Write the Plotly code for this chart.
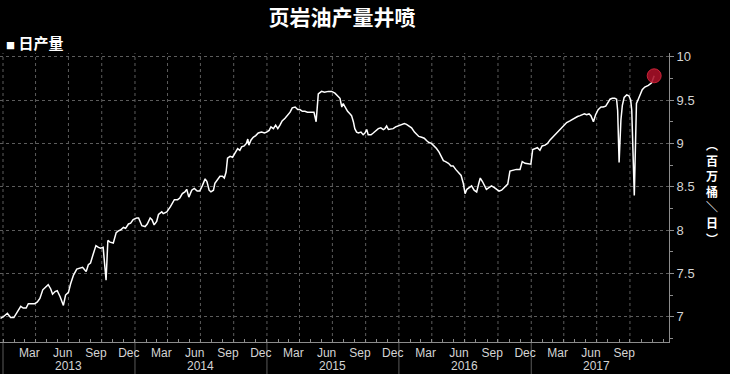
import plotly.graph_objects as go
import pandas as pd

# ---- data ----
dates = [
    "2012-12-25", "2013-01-02", "2013-01-13", "2013-01-22", "2013-01-31", "2013-02-10", "2013-02-19",
    "2013-02-26", "2013-03-06", "2013-03-12", "2013-03-21", "2013-03-30", "2013-04-06", "2013-04-13",
    "2013-04-21", "2013-04-27", "2013-05-06", "2013-05-13", "2013-05-18", "2013-05-25", "2013-05-31",
    "2013-06-08", "2013-06-17", "2013-06-23", "2013-07-01", "2013-07-07", "2013-07-15", "2013-07-24",
    "2013-07-31", "2013-08-09", "2013-08-13", "2013-08-19", "2013-08-25", "2013-08-31", "2013-09-08",
    "2013-09-15", "2013-09-22", "2013-09-28", "2013-10-05", "2013-10-13", "2013-10-18", "2013-10-24",
    "2013-11-02", "2013-11-10", "2013-11-16", "2013-11-22", "2013-11-30", "2013-12-06", "2013-12-14",
    "2013-12-20", "2013-12-27", "2014-01-06", "2014-01-11", "2014-01-20", "2014-01-29", "2014-02-04",
    "2014-02-12", "2014-02-17", "2014-02-23", "2014-03-02", "2014-03-07", "2014-03-16", "2014-03-20",
    "2014-03-30", "2014-04-09", "2014-04-20", "2014-04-29", "2014-05-05", "2014-05-12", "2014-05-19",
    "2014-05-24", "2014-05-30", "2014-06-07", "2014-06-14", "2014-06-22", "2014-06-29", "2014-07-06",
    "2014-07-14", "2014-07-19", "2014-07-25", "2014-07-30", "2014-08-06", "2014-08-10", "2014-08-18",
    "2014-08-24", "2014-08-31", "2014-09-05", "2014-09-10", "2014-09-14", "2014-09-21", "2014-09-28",
    "2014-10-05", "2014-10-12", "2014-10-18", "2014-10-23", "2014-10-30", "2014-11-05", "2014-11-09",
    "2014-11-12", "2014-11-18", "2014-11-24", "2014-12-01", "2014-12-08", "2014-12-17", "2014-12-25",
    "2014-12-31", "2015-01-07", "2015-01-12", "2015-01-19", "2015-01-25", "2015-01-31", "2015-02-06",
    "2015-02-12", "2015-02-20", "2015-02-27", "2015-03-06", "2015-03-12", "2015-03-20", "2015-03-27",
    "2015-04-02", "2015-04-09", "2015-04-16", "2015-04-23", "2015-04-30", "2015-05-06", "2015-05-11",
    "2015-05-17", "2015-05-23", "2015-06-01", "2015-06-09", "2015-06-20", "2015-06-29", "2015-07-08",
    "2015-07-18", "2015-07-22", "2015-07-27", "2015-07-31", "2015-08-05", "2015-08-12", "2015-08-19",
    "2015-08-23", "2015-08-28", "2015-09-01", "2015-09-06", "2015-09-11", "2015-09-18", "2015-09-24",
    "2015-09-29", "2015-10-04", "2015-10-08", "2015-10-16", "2015-10-22", "2015-10-29", "2015-11-05",
    "2015-11-12", "2015-11-19", "2015-11-23", "2015-11-28", "2015-12-03", "2015-12-10", "2015-12-16",
    "2015-12-23", "2015-12-30", "2016-01-09", "2016-01-16", "2016-01-22", "2016-01-29", "2016-02-05",
    "2016-02-13", "2016-02-19", "2016-02-25", "2016-03-04", "2016-03-11", "2016-03-18", "2016-03-24",
    "2016-03-31", "2016-04-08", "2016-04-14", "2016-04-21", "2016-04-26", "2016-05-03", "2016-05-09",
    "2016-05-17", "2016-05-24", "2016-05-30", "2016-06-06", "2016-06-13", "2016-06-21", "2016-06-27",
    "2016-07-02", "2016-07-07", "2016-07-13", "2016-07-20", "2016-07-27", "2016-08-03", "2016-08-09",
    "2016-08-13", "2016-08-19", "2016-08-24", "2016-08-30", "2016-09-06", "2016-09-13", "2016-09-21",
    "2016-09-27", "2016-10-04", "2016-10-11", "2016-10-20", "2016-10-28", "2016-11-03", "2016-11-12",
    "2016-11-21", "2016-12-01", "2016-12-07", "2016-12-15", "2016-12-24", "2016-12-31", "2017-01-05",
    "2017-01-11", "2017-01-18", "2017-01-25", "2017-01-31", "2017-02-08", "2017-02-15", "2017-02-22",
    "2017-03-03", "2017-03-12", "2017-03-21", "2017-03-31", "2017-04-09", "2017-04-18", "2017-04-27",
    "2017-05-02", "2017-05-09", "2017-05-16", "2017-05-22", "2017-05-28", "2017-06-03", "2017-06-10",
    "2017-06-15", "2017-06-22", "2017-06-28", "2017-07-05", "2017-07-13", "2017-07-19", "2017-07-26",
    "2017-07-31", "2017-08-07", "2017-08-13", "2017-08-20", "2017-08-25", "2017-08-28", "2017-09-01",
    "2017-09-06", "2017-09-10", "2017-09-15", "2017-09-22", "2017-09-28", "2017-10-03", "2017-10-06",
    "2017-10-13", "2017-10-17", "2017-10-19", "2017-10-24", "2017-10-29", "2017-11-04", "2017-11-11",
    "2017-11-21", "2017-11-30", "2017-12-07",
]
values = [
    6.98, 7.00, 7.04, 6.99, 6.99, 7.06, 7.12,
    7.10, 7.10, 7.15, 7.15, 7.15, 7.17, 7.21,
    7.31, 7.33, 7.37, 7.32, 7.26, 7.29, 7.30,
    7.23, 7.13, 7.25, 7.28, 7.38, 7.48, 7.55,
    7.56, 7.57, 7.55, 7.52, 7.60, 7.62, 7.73,
    7.82, 7.80, 7.79, 7.80, 7.42, 7.88, 7.86,
    7.85, 7.97, 7.99, 8.00, 8.03, 8.02, 8.07,
    8.08, 8.12, 8.14, 8.14, 8.05, 8.04, 8.07,
    8.14, 8.12, 8.06, 8.10, 8.18, 8.21, 8.19,
    8.21, 8.27, 8.35, 8.35, 8.37, 8.42, 8.44,
    8.47, 8.38, 8.46, 8.48, 8.45, 8.45, 8.51,
    8.59, 8.56, 8.46, 8.44, 8.46, 8.54, 8.59,
    8.62, 8.62, 8.60, 8.67, 8.83, 8.85, 8.84,
    8.89, 8.94, 8.92, 8.96, 8.97, 9.00, 9.05,
    8.98, 9.04, 9.07, 9.09, 9.12, 9.13, 9.12,
    9.13, 9.15, 9.19, 9.17, 9.21, 9.17, 9.21,
    9.26, 9.29, 9.32, 9.36, 9.41, 9.42, 9.39,
    9.39, 9.37, 9.37, 9.36, 9.36, 9.36, 9.36,
    9.25, 9.57, 9.60, 9.59, 9.60, 9.60, 9.58,
    9.54, 9.52, 9.42, 9.46, 9.42, 9.37, 9.34,
    9.32, 9.25, 9.17, 9.13, 9.12, 9.13, 9.10,
    9.12, 9.16, 9.10, 9.10, 9.12, 9.15, 9.17,
    9.18, 9.16, 9.17, 9.20, 9.16, 9.17, 9.17,
    9.19, 9.20, 9.22, 9.23, 9.22, 9.20, 9.18,
    9.13, 9.10, 9.08, 9.07, 9.06, 9.03, 9.01,
    9.00, 8.97, 8.94, 8.90, 8.85, 8.80, 8.79,
    8.77, 8.74, 8.74, 8.70, 8.67, 8.63, 8.54,
    8.42, 8.47, 8.49, 8.51, 8.46, 8.44, 8.54,
    8.60, 8.56, 8.52, 8.47, 8.49, 8.51, 8.49,
    8.47, 8.45, 8.46, 8.50, 8.53, 8.68, 8.69,
    8.70, 8.70, 8.79, 8.77, 8.76, 8.76, 8.93,
    8.94, 8.95, 8.92, 8.97, 8.98, 9.00, 9.04,
    9.08, 9.12, 9.15, 9.20, 9.24, 9.26, 9.28,
    9.30, 9.31, 9.32, 9.33, 9.34, 9.33, 9.34,
    9.32, 9.25, 9.33, 9.39, 9.42, 9.42, 9.43,
    9.47, 9.51, 9.52, 9.52, 9.51, 9.38, 8.78,
    9.27, 9.44, 9.53, 9.56, 9.55, 9.50, 9.38,
    8.40, 9.19, 9.46, 9.51, 9.56, 9.62, 9.65,
    9.67, 9.70, 9.78,
]

y_tick_values = [7, 7.5, 8, 8.5, 9, 9.5, 10]
y_tick_text = ["7", "7.5", "8", "8.5", "9", "9.5", "10"]

month_tick_dates = []
month_tick_text = []
for yr in range(2013, 2018):
    for m, name in [(3, "Mar"), (6, "Jun"), (9, "Sep"), (12, "Dec")]:
        if yr == 2017 and m == 12:
            continue
        month_tick_dates.append(f"{yr}-{m:02d}-15")
        month_tick_text.append(name)

year_labels = ["2013", "2014", "2015", "2016", "2017"]
year_label_dates = [f"{y}-07-01" for y in year_labels]
year_start_dates = [f"{y}-01-01" for y in year_labels]
quarter_grid_dates = [d.strftime("%Y-%m-%d") for d in pd.date_range("2013-01-01", "2017-10-01", freq="QS")]
month_start_dates = [d.strftime("%Y-%m-%d") for d in pd.date_range("2013-01-01", "2018-01-01", freq="MS")]

title_text = "页岩油产量井喷"
legend_text = "日产量"
unit_chars = ["︵", "百", "万", "桶", "＼", "日", "︶"]

# ---- figure ----
W, H = 730, 374
M_L, M_R, M_T, M_B = 0, 61, 53, 32
plot_h = H - M_T - M_B

GRID = "#5c5c5c"
AXIS = "#8c8c8c"
TICKTXT = "#d4d4d4"
FONT = "Arial, 'Liberation Sans', 'Noto Sans CJK SC', sans-serif"
CJK = "'Noto Sans CJK SC', 'Noto Sans', sans-serif"

fig = go.Figure()
fig.add_trace(go.Scatter(
    x=dates, y=values, mode="lines",
    line=dict(color="white", width=1.5),
    hoverinfo="skip", showlegend=False,
))
fig.add_trace(go.Scatter(
    x=[dates[-1]], y=[values[-1]], mode="markers",
    marker=dict(size=14, color="rgba(170,16,40,0.88)", line=dict(color="rgba(210,40,60,0.9)", width=1)),
    hoverinfo="skip", showlegend=False,
))

shapes = []
for d in quarter_grid_dates:
    shapes.append(dict(type="line", xref="x", yref="paper", x0=d, x1=d, y0=0, y1=1,
                       line=dict(color=GRID, width=1, dash="dot"), layer="below"))
for d in year_start_dates:
    shapes.append(dict(type="line", xref="x", yref="paper", x0=d, x1=d, y0=-M_B / plot_h, y1=0,
                       line=dict(color="#5a5a5a", width=1), layer="below"))

annotations = []
for lab, d in zip(year_labels, year_label_dates):
    annotations.append(dict(text=lab, x=d, xref="x", y=-M_B / plot_h, yref="paper", yanchor="bottom",
                            yshift=0, borderpad=0, showarrow=False,
                            font=dict(family=FONT, size=12, color=TICKTXT)))
annotations.append(dict(
    text='<span style="font-size:9px">■</span> <b>' + legend_text + '</b>',
    xref="paper", yref="paper", x=0, xanchor="left", xshift=4,
    y=(H - M_B - 43) / plot_h, yanchor="middle", showarrow=False,
    font=dict(family=CJK, size=15, color="white")))
annotations.append(dict(
    text="<b>" + "<br>".join(unit_chars) + "</b>",
    xref="paper", yref="paper", x=1, xanchor="center", xshift=43,
    y=(H - M_B - 191) / plot_h, yanchor="middle", showarrow=False,
    font=dict(family=CJK, size=12, color="white")))

fig.update_layout(
    width=W, height=H,
    margin=dict(l=M_L, r=M_R, t=M_T, b=M_B, pad=0),
    paper_bgcolor="black", plot_bgcolor="black",
    font=dict(family=FONT, color=TICKTXT),
    title=dict(text="<b>" + title_text + "</b>", x=342 / W, xanchor="center",
               y=1 - 18 / H, yanchor="middle", font=dict(family=CJK, size=21, color="white")),
    xaxis=dict(
        type="date", range=["2012-12-23 16:00", "2018-01-17"],
        tickmode="array", tickvals=month_tick_dates, ticktext=month_tick_text,
        ticks="", showgrid=False, zeroline=False,
        showline=True, linecolor=AXIS, linewidth=1,
        tickfont=dict(family=FONT, size=12, color=TICKTXT),
        minor=dict(tickmode="array", tickvals=month_start_dates, ticks="inside",
                   ticklen=3, tickcolor=AXIS, showgrid=False),
        fixedrange=True,
    ),
    yaxis=dict(
        side="right", range=[6.708, 10.043],
        tickmode="array", tickvals=y_tick_values, ticktext=y_tick_text,
        ticks="outside", ticklen=4, tickcolor=AXIS,
        showgrid=True, gridcolor=GRID, griddash="dot", gridwidth=1,
        zeroline=False, showline=True, linecolor=AXIS, linewidth=1,
        tickfont=dict(family=FONT, size=13, color=TICKTXT),
        minor=dict(tickmode="linear", tick0=6.75, dtick=0.25, ticks="outside",
                   ticklen=3, tickcolor=AXIS, showgrid=False),
        fixedrange=True,
    ),
    shapes=shapes,
    annotations=annotations,
    showlegend=False,
)

fig.write_html("out.html")
